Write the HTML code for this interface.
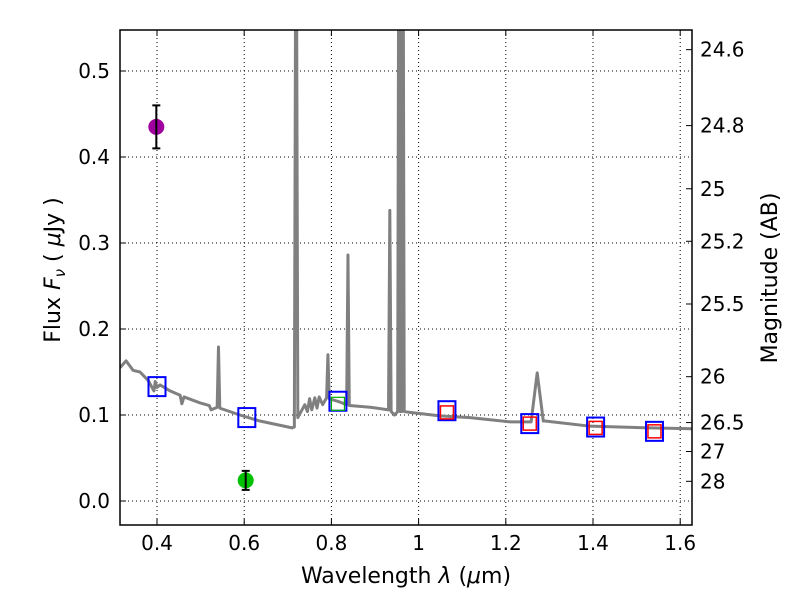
<!DOCTYPE html>
<html><head><meta charset="utf-8"><style>
body{margin:0;background:#fff}
svg text{font-family:"DejaVu Sans","Liberation Sans",sans-serif;fill:#000}
</style></head><body>
<svg id="chart" width="800" height="600" xmlns="http://www.w3.org/2000/svg">
<rect width="800" height="600" fill="#fff"/>
<g id="grid"></g>
<g id="plot"></g>
<g id="axes"></g>
<text x="406" y="583" font-size="22" text-anchor="middle">Wavelength  <tspan font-style="italic">λ</tspan> (<tspan font-style="italic">μ</tspan>m)</text>
<text transform="translate(60,270) rotate(-90)" font-size="22" text-anchor="middle">Flux  <tspan font-style="italic">F<tspan font-size="15" dy="5">ν</tspan></tspan><tspan dy="-5">  ( </tspan><tspan font-style="italic">μ</tspan>Jy )</text>
<text transform="translate(777,278) rotate(-90)" font-size="22" text-anchor="middle">Magnitude (AB)</text>
</svg>
<script>
const specLam=[0.315,0.329,0.345,0.361,0.380,0.393,0.396,0.400,0.407,0.430,0.453,0.457,0.462,0.499,0.520,0.524,0.538,0.541,0.544,0.590,0.636,0.710,0.715,0.719,0.723,0.739,0.745,0.750,0.755,0.762,0.767,0.772,0.780,0.789,0.792,0.795,0.820,0.835,0.838,0.841,0.889,0.931,0.934,0.937,0.945,0.952,0.955,0.958,0.961,0.964,0.967,0.980,1.049,1.118,1.210,1.258,1.272,1.286,1.290,1.393,1.531,1.627];
const specFlux=[0.155,0.163,0.152,0.150,0.140,0.128,0.139,0.132,0.135,0.128,0.123,0.113,0.121,0.114,0.111,0.106,0.109,0.179,0.108,0.100,0.093,0.085,0.086,0.8,0.097,0.112,0.104,0.119,0.106,0.120,0.108,0.121,0.112,0.120,0.170,0.119,0.115,0.112,0.286,0.111,0.109,0.106,0.338,0.104,0.100,0.104,0.8,0.104,0.104,0.8,0.104,0.103,0.099,0.097,0.092,0.092,0.149,0.093,0.093,0.087,0.085,0.084];
const bandLam=[0.4,0.606,0.815,1.065,1.255,1.406,1.541];
const bandFlux=[0.133,0.097,0.116,0.105,0.090,0.086,0.081];
const redLam=[1.065,1.255,1.406,1.541];
const redFlux=[0.103,0.090,0.085,0.081];
const greenLam=[0.815];
const greenFlux=[0.113];
const obsLam=[0.395,0.6];
const obsFlux=[0.435,0.024];
const obsErr=[0.025,0.011];
const obsColor=['#a000a0','#00c000'];
const xTicks=[0.4,0.6,0.8,1.0,1.2,1.4,1.6];
const xTickLabels=['0.4','0.6','0.8','1','1.2','1.4','1.6'];
const yTicks=[0,0.1,0.2,0.3,0.4,0.5];
const yTickLabels=['0.0','0.1','0.2','0.3','0.4','0.5'];
const magTicks=[24.6,24.8,25,25.2,25.5,26,26.5,27,28];

const L=120,R=692,T=30,B=525;
const X=v=>157+(v-0.4)*436;
const Y=v=>501-v*860;
const NS='http://www.w3.org/2000/svg';
function mk(p,tag,a){const e=document.createElementNS(NS,tag);for(const k in a)e.setAttribute(k,a[k]);p.appendChild(e);return e;}
const grid=document.getElementById('grid'),plot=document.getElementById('plot'),axes=document.getElementById('axes');
xTicks.forEach((t,i)=>{
 const g=mk(grid,'line',{x1:X(t),x2:X(t),y1:T,y2:B,stroke:'#000','stroke-width':1,'stroke-dasharray':'1,3'});
 
 
 mk(axes,'line',{x1:X(t),x2:X(t),y1:B,y2:B-6,stroke:'#000'});
 mk(axes,'line',{x1:X(t),x2:X(t),y1:T,y2:T+6,stroke:'#000'});
 const tx=mk(axes,'text',{x:X(t),y:B+25,'font-size':20,'text-anchor':'middle'});tx.textContent=xTickLabels[i];
 
 
});
yTicks.forEach((t,i)=>{
 const g=mk(grid,'line',{x1:L,x2:R,y1:Y(t),y2:Y(t),stroke:'#000','stroke-width':1,'stroke-dasharray':'1,3'});
 
 
 mk(axes,'line',{x1:L,x2:L+6,y1:Y(t),y2:Y(t),stroke:'#000'});
 const tx=mk(axes,'text',{x:L-10,y:Y(t)+7,'font-size':20,'text-anchor':'end'});tx.textContent=yTickLabels[i];
 
 
});
magTicks.forEach(m=>{
 const y=Y(Math.pow(10,(23.9-m)/2.5));
 mk(axes,'line',{x1:R,x2:R-6,y1:y,y2:y,stroke:'#000'});
 const tx=mk(axes,'text',{x:R+8,y:y+7,'font-size':20});tx.textContent=String(m);
 
 
});
const cp=mk(document.getElementById('chart'),'clipPath',{id:'clip'});mk(cp,'rect',{x:L,y:T,width:R-L,height:B-T});
plot.setAttribute('clip-path','url(#clip)');
const sp=mk(plot,'path',{d:specLam.map((l,i)=>(i?'L':'M')+X(l)+','+Y(specFlux[i])).join(''),fill:'none',stroke:'#808080','stroke-width':3,'stroke-linejoin':'round'});


bandLam.forEach((l,i)=>{
 const r=mk(plot,'rect',{x:X(l)-8.5,y:Y(bandFlux[i])-9.5,width:17,height:19,fill:'none',stroke:'#0000ff','stroke-width':2});
 
 
});
redLam.forEach((l,i)=>{
 const r=mk(plot,'rect',{x:X(l)-6.5,y:Y(redFlux[i])-6.5,width:13,height:13,fill:'none',stroke:'#ff0000','stroke-width':1.5});
 
 
});
greenLam.forEach((l,i)=>{
 const r=mk(plot,'rect',{x:X(l)-6.5,y:Y(greenFlux[i])-6.5,width:13,height:13,fill:'none',stroke:'#00b000','stroke-width':1.2});
 
 
});
obsLam.forEach((l,i)=>{
 const x=X(l)+1.5,y=Y(obsFlux[i]);
 const c=mk(plot,'circle',{cx:x,cy:y,r:8,fill:obsColor[i]});
 
 
 const y1=Y(obsFlux[i]+obsErr[i]),y2=Y(obsFlux[i]-obsErr[i]);
 const e=mk(plot,'path',{d:`M${x},${y1}L${x},${y2}M${x-4},${y1}L${x+4},${y1}M${x-4},${y2}L${x+4},${y2}`,stroke:'#000','stroke-width':2,fill:'none'});
 
 
});
const fr=mk(axes,'rect',{x:L,y:T,width:R-L,height:B-T,fill:'none',stroke:'#000','stroke-width':1.5});


</script>
</body></html>
